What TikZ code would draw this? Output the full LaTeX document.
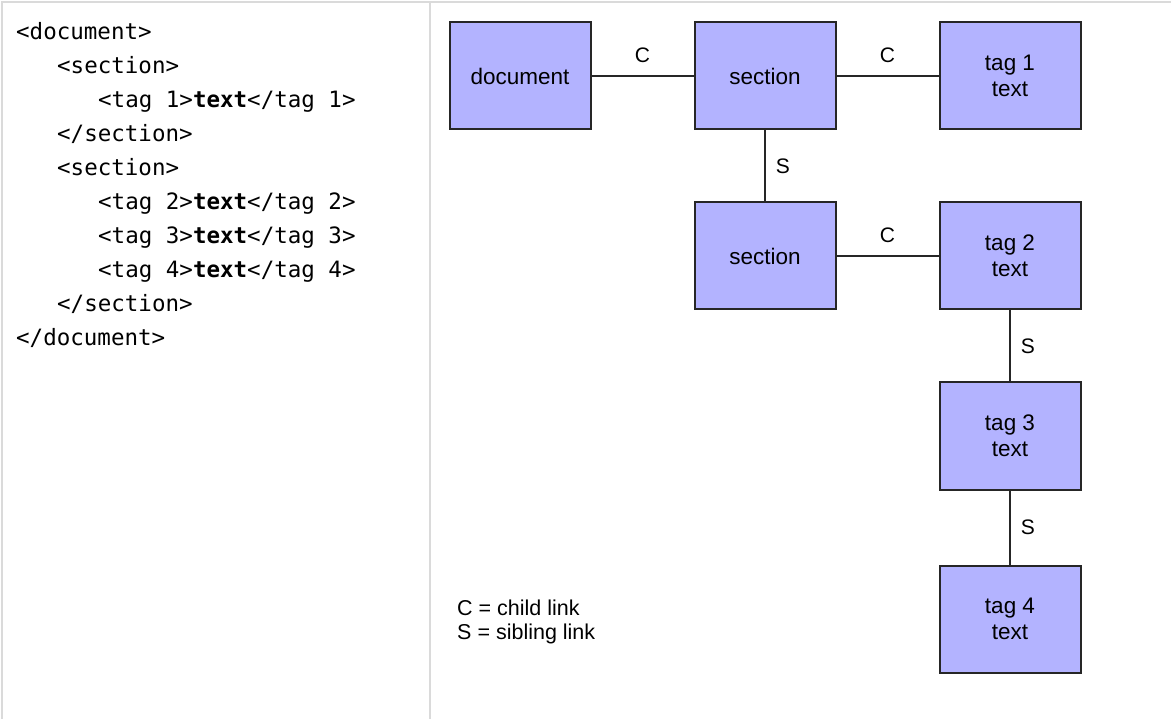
\documentclass[tikz,border=0pt]{standalone}
\usepackage{fontspec}
\setmainfont{Liberation Sans}
\setmonofont{DejaVu Sans Mono}
\definecolor{boxblue}{HTML}{B3B3FF}
\definecolor{framegray}{HTML}{DADADA}
\tikzset{
    tagbox/.style={draw=black!85, fill=boxblue, line width=2pt,
        minimum width=141pt, minimum height=107pt, align=center,
        inner sep=0pt, font=\fontsize{22.5}{26}\selectfont},
    link/.style={draw=black!85, line width=1.8pt},
    linklabel/.style={inner sep=0pt, font=\fontsize{21}{24}\selectfont},
    codeline/.style={anchor=base west, inner sep=0pt,
        font=\fontsize{22.5}{27}\selectfont\ttfamily},
    legend/.style={anchor=west, inner sep=0pt,
        font=\fontsize{21.5}{25}\selectfont},
    framerule/.style={draw=framegray, line width=2pt}
}
\begin{document}
\begin{tikzpicture}[x=1pt, y=-1pt]
    \pgfmathsetmacro\lineh{34};
    \pgfmathsetmacro\indent{41};
    \useasboundingbox (0,0) rectangle (1171,719);

    % table frame
    \draw[framerule] (2,719) -- (2,2) -- (1171,2);
    \draw[framerule] (430,2) -- (430,719);

    % source listing
    \node[codeline] (code0) at (16 + 0*\indent, 40 + 0*\lineh) {<document>};
    \node[codeline] (code1) at (16 + 1*\indent, 40 + 1*\lineh) {<section>};
    \node[codeline] (code2) at (16 + 2*\indent, 40 + 2*\lineh) {<tag 1>\textbf{text}</tag 1>};
    \node[codeline] (code3) at (16 + 1*\indent, 40 + 3*\lineh) {</section>};
    \node[codeline] (code4) at (16 + 1*\indent, 40 + 4*\lineh) {<section>};
    \node[codeline] (code5) at (16 + 2*\indent, 40 + 5*\lineh) {<tag 2>\textbf{text}</tag 2>};
    \node[codeline] (code6) at (16 + 2*\indent, 40 + 6*\lineh) {<tag 3>\textbf{text}</tag 3>};
    \node[codeline] (code7) at (16 + 2*\indent, 40 + 7*\lineh) {<tag 4>\textbf{text}</tag 4>};
    \node[codeline] (code8) at (16 + 1*\indent, 40 + 8*\lineh) {</section>};
    \node[codeline] (code9) at (16 + 0*\indent, 40 + 9*\lineh) {</document>};

    % tree of boxes
    \node[tagbox] (doc)  at (520, 76)  {document};
    \node[tagbox] (sec1) at (765, 76)  {section};
    \node[tagbox] (tag1) at (1010, 76) {tag 1\\text};
    \node[tagbox] (sec2) at (765, 256) {section};
    \node[tagbox] (tag2) at (1010, 256) {tag 2\\text};
    \node[tagbox] (tag3) at (1010, 436) {tag 3\\text};
    \node[tagbox] (tag4) at (1010, 619) {tag 4\\text};

    \draw[link] (doc)  -- node[linklabel, above=12pt] {C} (sec1);
    \draw[link] (sec1) -- node[linklabel, above=12pt] {C} (tag1);
    \draw[link] (sec2) -- node[linklabel, above=12pt] {C} (tag2);
    \draw[link] (sec1) -- node[linklabel, right=10pt] {S} (sec2);
    \draw[link] (tag2) -- node[linklabel, right=10pt] {S} (tag3);
    \draw[link] (tag3) -- node[linklabel, right=10pt] {S} (tag4);

    \node[legend] (legc) at (457, 608) {C = child link};
    \node[legend] (legs) at (457, 634) {S = sibling link};
\end{tikzpicture}
\end{document}
